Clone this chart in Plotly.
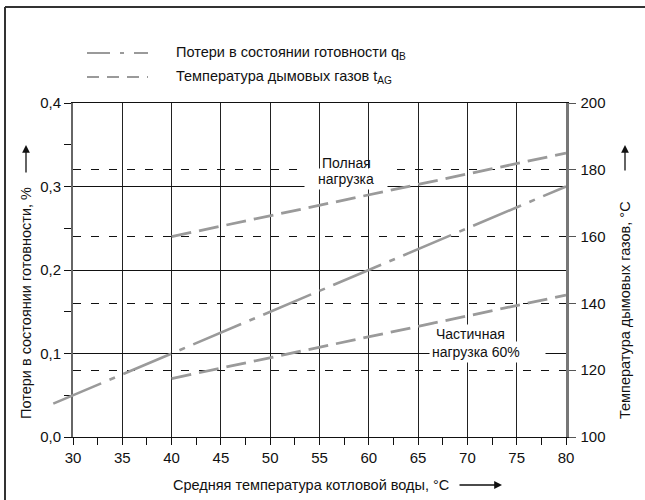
import plotly.graph_objects as go

# ---------------- data ----------------
water_temp_qb = [28, 80]              # °C, standby loss line (starts just left of axis)
standby_loss = [0.04, 0.30]           # %
water_temp_gas = [40, 80]             # °C
flue_temp_full = [160, 185]           # °C, full load
flue_temp_partial = [117.5, 142.5]    # °C, partial load 60 %

x_ticks = [30, 35, 40, 45, 50, 55, 60, 65, 70, 75, 80]
x_labels = ["30", "35", "40", "45", "50", "55", "60", "65", "70", "75", "80"]
y_left_ticks = [0.0, 0.1, 0.2, 0.3, 0.4]
y_left_labels = ["0,0", "0,1", "0,2", "0,3", "0,4"]
y_right_ticks = [100, 120, 140, 160, 180, 200]
y_right_labels = ["100", "120", "140", "160", "180", "200"]

# ---------------- geometry ----------------
W, H = 645, 500
L, R, T, B = 52, 79, 103, 63
PW, PH = W - L - R, H - T - B
AX0 = 73                       # pixel of the left axis (x = 30)
dom0 = (AX0 - L) / PW
x2_start = 30 - (AX0 - L) * (80 - 30) / (W - R - AX0)


def px(x):
    return (x - L) / PW


def py(y):
    return 1 - (y - T) / PH


FONT = "Liberation Sans, Arial, sans-serif"
GRAY = "#9a9a9a"
TXT = 14.5

fig = go.Figure()

# empty trace so that the left axis (x/y subplot) is rendered
fig.add_trace(go.Scatter(x=[], y=[], xaxis="x", yaxis="y", showlegend=False,
                         hoverinfo="skip"))
fig.add_trace(go.Scatter(
    x=water_temp_gas, y=flue_temp_full, yaxis="y2", mode="lines",
    line=dict(color=GRAY, width=2.8, dash="20px,8px"), showlegend=False,
    hoverinfo="skip"))
fig.add_trace(go.Scatter(
    x=water_temp_gas, y=flue_temp_partial, yaxis="y2", mode="lines",
    line=dict(color=GRAY, width=2.8, dash="20px,8px"), showlegend=False,
    hoverinfo="skip"))
fig.add_trace(go.Scatter(
    x=water_temp_qb, y=standby_loss, xaxis="x2", yaxis="y3", mode="lines",
    line=dict(color=GRAY, width=2.6, dash="52px,9px,6px,9px"), showlegend=False,
    hoverinfo="skip"))

fig.update_layout(
    width=W, height=H,
    margin=dict(l=L, r=R, t=T, b=B),
    paper_bgcolor="white", plot_bgcolor="rgba(0,0,0,0)",
    font=dict(family=FONT, size=15, color="#111"),
    hovermode=False,
    xaxis=dict(
        domain=[dom0, 1], range=[30, 80], tickvals=x_ticks, ticktext=x_labels,
        ticks="outside", ticklen=7, tickcolor="#111", tickwidth=1,
        showline=True, linecolor="#111", linewidth=1, mirror=True,
        showgrid=True, gridcolor="#222", gridwidth=1, zeroline=False,
        minor=dict(dtick=2.5, tick0=30, ticks="outside", ticklen=7,
                   tickcolor="#111", showgrid=False),
        tickfont=dict(size=15),
    ),
    yaxis=dict(
        range=[0, 0.4], tickvals=y_left_ticks, ticktext=y_left_labels,
        ticks="outside", ticklen=7, tickcolor="#111",
        showline=True, linecolor="#666", linewidth=2,
        showgrid=True, gridcolor="#111", gridwidth=1, zeroline=False,
        minor=dict(dtick=0.05, tick0=0, ticks="outside", ticklen=7,
                   tickcolor="#111", showgrid=False),
        tickfont=dict(size=15),
    ),
    yaxis2=dict(
        overlaying="y", side="right", anchor="x", range=[100, 200],
        tickvals=y_right_ticks, ticktext=y_right_labels,
        ticks="outside", ticklen=7, tickcolor="#555", ticklabelstandoff=2,
        showline=True, linecolor="#777", linewidth=2.5,
        showgrid=True, gridcolor="#111", gridwidth=1.2, griddash="8px,10px",
        zeroline=False, tickfont=dict(size=15),
    ),
    xaxis2=dict(domain=[0, 1], range=[x2_start, 80], anchor="y3", visible=False),
    yaxis3=dict(domain=[0, 1], range=[0, 0.4], anchor="x2", visible=False),
)


def note(text, x, y, xa="center", ya="middle", size=TXT, **kw):
    d = dict(text=text, x=px(x), y=py(y), xref="paper", yref="paper",
             xanchor=xa, yanchor=ya, showarrow=False, font=dict(size=size))
    d.update(kw)
    return d


def arrow(x, y, ax, ay):
    return dict(text="", x=px(x), y=py(y), xref="paper", yref="paper",
                ax=ax, ay=ay, showarrow=True, arrowhead=2, arrowsize=1.2,
                arrowwidth=1.3, arrowcolor="#111")


ann = [
    # axis titles
    note("Потери в состоянии готовности, %", 26, 303, textangle=-90),
    note("Температура дымовых газов, °C", 625, 310, textangle=-90),
    note("Средняя температура котловой воды, °C", 311, 485),
    # arrows beside axis titles
    arrow(26, 145, 0, 29),
    arrow(625, 145, 0, 27),
    arrow(502, 485, -44, 0),
    # in-plot labels
    note("Полная", 320, 163, xa="left", size=14),
    note("нагрузка", 346, 179, bgcolor="white", width=80, height=18,
         borderpad=1, size=14),
    note("Частичная", 434, 334, xa="left", bgcolor="white", borderpad=1,
         size=14),
    note("нагрузка 60%", 487.5, 352, bgcolor="white", width=111, height=16,
         align="left", borderpad=2, size=14),
    # legend texts
    note("Потери в состоянии готовности q<sub>B</sub>", 174, 53, xa="left"),
    note("Температура дымовых газов t<sub>AG</sub>", 174, 77, xa="left"),
]
fig.update_layout(annotations=ann)

shapes = [
    # legend symbols
    dict(type="line", xref="paper", yref="paper",
         x0=px(87), x1=px(148), y0=py(53), y1=py(53),
         line=dict(color=GRAY, width=2, dash="23px,10px,4px,10px")),
    dict(type="line", xref="paper", yref="paper",
         x0=px(87), x1=px(148), y0=py(77), y1=py(77),
         line=dict(color=GRAY, width=2, dash="12px,8px")),
    # frame (top and left edges)
    dict(type="line", xref="paper", yref="paper",
         x0=px(5), x1=px(646), y0=py(7), y1=py(7),
         line=dict(color="#333", width=2)),
    dict(type="line", xref="paper", yref="paper",
         x0=px(5), x1=px(5), y0=py(7), y1=py(501),
         line=dict(color="#333", width=2)),
]
fig.update_layout(shapes=shapes)

fig.write_html(
    "out.html",
    config={"displayModeBar": False, "staticPlot": True},
    post_script="document.body.style.margin='0';document.body.style.padding='0';"
                "document.body.style.overflow='hidden';",
)
